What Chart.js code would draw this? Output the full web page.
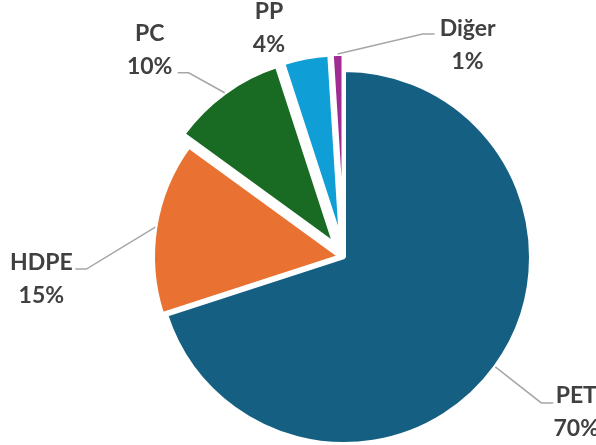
<!DOCTYPE html>
<html>
<head>
<meta charset="utf-8">
<script src="https://cdn.jsdelivr.net/npm/chart.js@4"></script>
<style>
  html, body { margin: 0; padding: 0; background: #fff; }
  #wrap { width: 596px; height: 445px; }
</style>
</head>
<body>
<div id="wrap"><canvas id="myChart"></canvas></div>
<script>
const categories = ["PET", "HDPE", "PC", "PP", "Diğer"];
const values = [70, 15, 10, 4, 1];
const colors = ["#156082", "#E97132", "#196B24", "#0F9ED5", "#A02B93"];

// how far each slice is pulled out (px)
const explode = [0, 4, 16, 16, 16];

// label placement relative to the slice's outer point: text centre, elbow, line end
const labelPos = [
  { tx: 81, ty: 45, ex: 46, ey: 36, lx: 58 },
  { tx: -114, ty: 51, ex: -69, ey: 42, lx: -80 },
  { tx: -75, ty: -43, ex: -36, ey: -20, lx: -47 },
  { tx: -37, ty: -30, line: false },
  { tx: 130, ty: -10, ex: 85, ey: -20, lx: 97 },
];

const midAngle = (arc) => (arc.startAngle + arc.endAngle) / 2;

const explodePlugin = {
  id: "explode",
  beforeDatasetDraw(chart, args) {
    const ctx = chart.ctx;
    args.meta.data.forEach((arc, i) => {
      const a = midAngle(arc);
      ctx.save();
      ctx.translate(Math.cos(a) * explode[i], Math.sin(a) * explode[i]);
      arc.draw(ctx);
      ctx.restore();
    });
    return false;
  },
};

const labelPlugin = {
  id: "pieLabels",
  afterDraw(chart) {
    const ctx = chart.ctx;
    const meta = chart.getDatasetMeta(0);
    const total = values.reduce((s, v) => s + v, 0);
    ctx.save();
    meta.data.forEach((arc, i) => {
      const a = midAngle(arc);
      const r = arc.outerRadius + explode[i];
      const ax = arc.x + Math.cos(a) * r;
      const ay = arc.y + Math.sin(a) * r;
      const p = labelPos[i];
      if (p.line !== false) {
        ctx.strokeStyle = "#A6A6A6";
        ctx.lineWidth = 1.5;
        ctx.beginPath();
        ctx.moveTo(ax, ay);
        ctx.lineTo(ax + p.ex, ay + p.ey);
        ctx.lineTo(ax + p.lx, ay + p.ey);
        ctx.stroke();
      }
      const pct = Math.round((values[i] / total) * 100) + "%";
      ctx.fillStyle = "#404040";
      ctx.font = "bold 23px Lato";
      ctx.textAlign = "center";
      ctx.textBaseline = "middle";
      ctx.fillText(categories[i], ax + p.tx, ay + p.ty - 16);
      ctx.fillText(pct, ax + p.tx, ay + p.ty + 17);
    });
    ctx.restore();
  },
};

new Chart(document.getElementById("myChart"), {
  type: "pie",
  data: {
    labels: categories,
    datasets: [{
      data: values,
      backgroundColor: colors,
      borderColor: "#ffffff",
      borderWidth: 4,
    }],
  },
  options: {
    responsive: true,
    maintainAspectRatio: false,
    animation: false,
    radius: 187,
    layout: { padding: { left: 92, right: 0, top: 69, bottom: 0 } },
    plugins: {
      legend: { display: false },
      tooltip: { enabled: false },
    },
  },
  plugins: [explodePlugin, labelPlugin],
});
</script>
</body>
</html>
